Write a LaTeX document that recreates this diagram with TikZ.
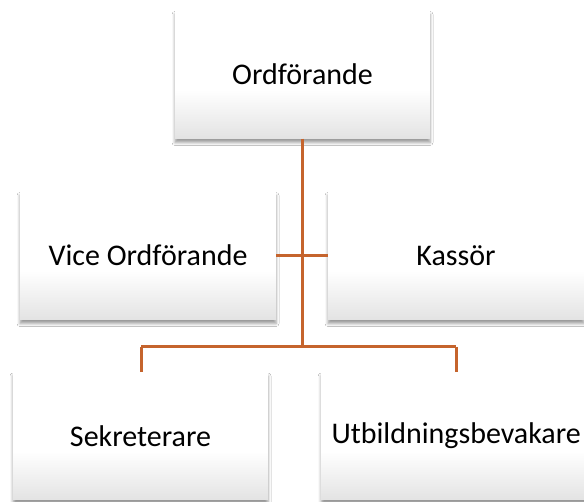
\documentclass[tikz,border=0pt]{standalone}
\usepackage{fontspec}
\setmainfont{Carlito}
\usetikzlibrary{shadows.blur}
\definecolor{conn}{RGB}{197,100,45}
\pgfdeclareverticalshading{boxshade}{100bp}{color(0bp)=(black!11); color(25bp)=(black!11); color(44bp)=(white); color(100bp)=(white)}
\tikzset{
  orgbox/.style={rectangle, inner sep=0pt, minimum width=255pt, minimum height=128pt,
    shading=boxshade, draw=none, font=\fontsize{30}{36}\selectfont,
    blur shadow={shadow xshift=0pt, shadow yshift=-4pt, shadow blur radius=3pt, shadow opacity=40}},
  link/.style={draw=conn, line width=3pt}
}
\begin{document}
\begin{tikzpicture}[x=1pt,y=-1pt]
\clip (0,0) rectangle (584,502);
\fill[white] (0,0) rectangle (584,502);
\node[orgbox] (ord) at (302.5,74.5) {Ordförande};
\node[orgbox, minimum width=256pt] (vice) at (148,255.5) {Vice Ordförande};
\node[orgbox, minimum width=256pt] (kas) at (456,255.5) {Kassör};
\node[orgbox] (sek) at (140.5,436) {Sekreterare};
\node[orgbox, minimum width=270pt, anchor=west] (utb) at (321,436) {Utbildningsbevakare};
\coordinate (j1) at (302.5,347);
\coordinate (js) at (141,347);
\coordinate (ju) at (456,347);
\draw[link] (ord.south) -- (j1);
\draw[link] (vice.east) -- (kas.west);
\draw[link] (js) -- (ju);
\draw[link] (js) -- (sek.north -| js);
\draw[link] (ju) -- (utb.north -| ju);
\end{tikzpicture}
\end{document}
